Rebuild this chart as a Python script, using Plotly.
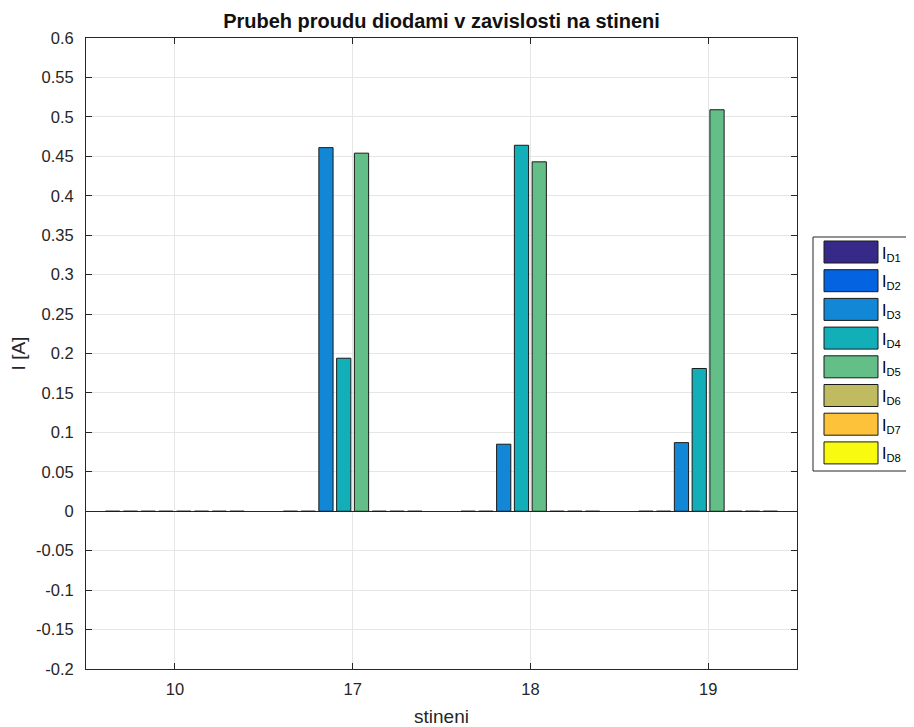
import plotly.graph_objects as go

categories = ["10", "17", "18", "19"]
series_names = ["D1", "D2", "D3", "D4", "D5", "D6", "D7", "D8"]
series_values = [
    [0, 0, 0, 0],
    [0, 0, 0, 0],
    [0, 0.461, 0.085, 0.087],
    [0, 0.194, 0.464, 0.181],
    [0, 0.454, 0.443, 0.509],
    [0, 0, 0, 0],
    [0, 0, 0, 0],
    [0, 0, 0, 0],
]
colors = ["#352a87", "#0363e1", "#1287d5", "#12afb9", "#64be87", "#c0bb61", "#fec23a", "#f8fa0f"]
y_tickvals = [-0.2, -0.15, -0.1, -0.05, 0, 0.05, 0.1, 0.15, 0.2, 0.25, 0.3, 0.35, 0.4, 0.45, 0.5, 0.55, 0.6]
y_ticktext = ["-0.2", "-0.15", "-0.1", "-0.05", "0", "0.05", "0.1", "0.15", "0.2", "0.25", "0.3",
              "0.35", "0.4", "0.45", "0.5", "0.55", "0.6"]

OFF = 8  # browser body margin
W, H = 914 - OFF, 727 - OFF
# plot area in page pixels
L, R, T, B = 86, 797, 38, 669
FONT = "Liberation Sans, Arial, sans-serif"
AX = "#262626"

fig = go.Figure()
for name, vals, col in zip(series_names, series_values, colors):
    fig.add_trace(go.Bar(
        x=categories, y=vals, name=name,
        marker=dict(color=col, line=dict(color="#1a1a1a", width=1)),
        showlegend=False,
    ))

def px_x(p):
    return (p - L) / (R - L)

def px_y(p):
    return (B - p) / (B - T)

shapes = []
annotations = []
shapes.append(dict(type="rect", xref="paper", yref="paper",
                   x0=px_x(813), x1=px_x(909), y0=px_y(471), y1=px_y(237),
                   line=dict(color=AX, width=1), fillcolor="white"))
for i, (name, col) in enumerate(zip(series_names, colors)):
    top = 241 + 28.7 * i
    shapes.append(dict(type="rect", xref="paper", yref="paper",
                       x0=px_x(824), x1=px_x(878), y0=px_y(top + 22), y1=px_y(top),
                       line=dict(color="#1a1a1a", width=1), fillcolor=col))
    annotations.append(dict(xref="paper", yref="paper", x=px_x(880), y=px_y(top + 13),
                            text="I<sub>" + name + "</sub>", showarrow=False,
                            xanchor="left", yanchor="middle",
                            font=dict(family=FONT, size=16, color="black")))

fig.update_layout(
    width=W, height=H,
    margin=dict(l=L - OFF, r=W - (R - OFF), t=T - OFF, b=H - (B - OFF), pad=0),
    paper_bgcolor="white", plot_bgcolor="white",
    barmode="group", bargap=0.2, bargroupgap=0.2,
    title=dict(text="<b>Prubeh proudu diodami v zavislosti na stineni</b>",
               x=((L + R) / 2 - OFF) / W, xanchor="center", y=1 - (21 - OFF) / H, yanchor="middle",
               font=dict(family=FONT, size=20, color="#111111")),
    font=dict(family=FONT, size=16, color=AX),
    shapes=shapes, annotations=annotations,
    xaxis=dict(type="category", range=[-0.5, 3.5], automargin=False,
               showgrid=True, gridcolor="#e6e6e6", gridwidth=1,
               showline=True, linecolor=AX, linewidth=1, mirror="ticks",
               ticks="inside", ticklen=6, tickcolor=AX, ticklabelstandoff=5,
               tickfont=dict(family=FONT, size=16.5, color=AX),
               title=dict(text="stineni", font=dict(family=FONT, size=19, color=AX), standoff=12),
               zeroline=False),
    yaxis=dict(range=[-0.2, 0.6], tickvals=y_tickvals, ticktext=y_ticktext, automargin=False,
               showgrid=True, gridcolor="#e6e6e6", gridwidth=1,
               showline=True, linecolor=AX, linewidth=1, mirror="ticks",
               ticks="inside", ticklen=6, tickcolor=AX, ticklabelstandoff=8,
               tickfont=dict(family=FONT, size=16.5, color=AX),
               title=dict(text="I [A]", font=dict(family=FONT, size=19, color=AX), standoff=10),
               zeroline=True, zerolinecolor=AX, zerolinewidth=1),
)

fig.write_html("out.html")
